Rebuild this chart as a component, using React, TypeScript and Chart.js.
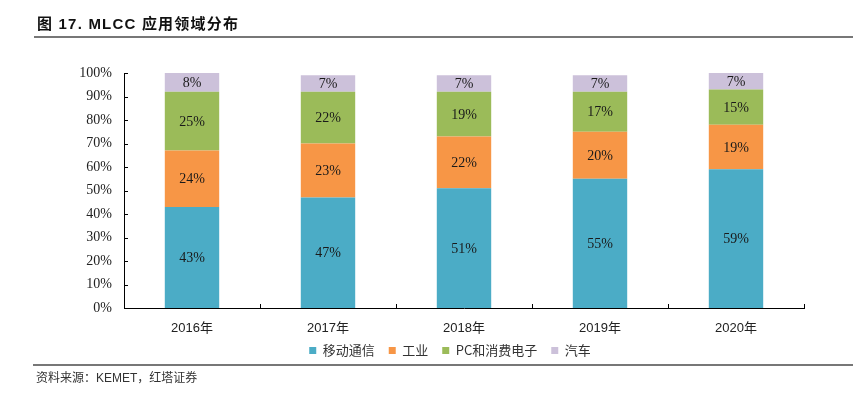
import React, { useEffect, useRef } from "react";
import { Chart, registerables } from "chart.js";

Chart.register(...registerables);

const titleText = "图 17. MLCC 应用领域分布";
const sourceText = "资料来源：KEMET，红塔证券";
const categories = ["2016年", "2017年", "2018年", "2019年", "2020年"];
const seriesNames = ["移动通信", "工业", "PC和消费电子", "汽车"];
const mobileComm = [43, 47, 51, 55, 59];
const industrial = [24, 23, 22, 20, 19];
const pcConsumer = [25, 22, 19, 17, 15];
const automotive = [8, 7, 7, 7, 7];
const yTicks = [0, 10, 20, 30, 40, 50, 60, 70, 80, 90, 100];
const seriesColors = ["#4BACC6", "#F79646", "#9BBB59", "#CCC1DA"];

const SERIF = '"Liberation Serif", "Times New Roman", serif';
const SANS = '"Liberation Sans", Arial, "Noto Sans CJK SC", sans-serif';
const CJK = '"Noto Sans CJK SC", "Liberation Sans", sans-serif';

const tickMarks = {
  id: "tickMarks",
  afterDraw(chart: any) {
    const { ctx, chartArea } = chart;
    const x = chart.scales.x;
    const y = chart.scales.y;
    ctx.save();
    ctx.strokeStyle = "#000";
    ctx.lineWidth = 1;
    ctx.beginPath();
    yTicks.forEach((v) => {
      const py = Math.round(y.getPixelForValue(v)) + 0.5;
      ctx.moveTo(chartArea.left, py);
      ctx.lineTo(chartArea.left + 4, py);
    });
    for (let i = 0; i <= categories.length; i++) {
      const px = Math.round(x.getPixelForValue(i - 0.5)) + 0.5;
      ctx.moveTo(px, chartArea.bottom);
      ctx.lineTo(px, chartArea.bottom - 4);
    }
    ctx.stroke();
    ctx.restore();
  },
};

const barLabels = {
  id: "barLabels",
  afterDatasetsDraw(chart: any) {
    const { ctx } = chart;
    ctx.save();
    ctx.font = `14px ${SERIF}`;
    ctx.fillStyle = "#1a1a1a";
    ctx.textAlign = "center";
    ctx.textBaseline = "middle";
    chart.data.datasets.forEach((ds: any, i: number) => {
      const meta = chart.getDatasetMeta(i);
      meta.data.forEach((el: any, j: number) => {
        const p = el.getProps(["x", "y", "base"], true);
        ctx.fillText(ds.data[j] + "%", p.x, (p.y + p.base) / 2 + 1);
      });
    });
    ctx.restore();
  },
};

// Nudge the legend box so it sits where the reference shows it.
const legendShift = {
  id: "legendShift",
  afterLayout(chart: any) {
    const l = chart.legend;
    if (!l) return;
    l.top -= 14;
    l.bottom -= 14;
    l.left += 48;
    l.right += 48;
  },
};

export default function App() {
  const ref = useRef<HTMLCanvasElement | null>(null);

  useEffect(() => {
    if (!ref.current) return;
    const seriesData = [mobileComm, industrial, pcConsumer, automotive];
    const chart = new Chart(ref.current, {
      type: "bar",
      data: {
        labels: categories,
        datasets: seriesNames.map((name, i) => ({
          label: name,
          data: seriesData[i],
          backgroundColor: seriesColors[i],
          borderWidth: 0,
          barPercentage: 0.4,
          categoryPercentage: 1,
        })),
      },
      options: {
        animation: false,
        responsive: false,
        devicePixelRatio: 1,
        layout: { padding: { left: 0, right: 49, top: 73, bottom: 13 } },
        plugins: {
          tooltip: { enabled: false },
          legend: {
            position: "bottom",
            labels: {
              boxWidth: 7,
              boxHeight: 7,
              padding: 14,
              color: "#333",
              font: { size: 13, family: CJK },
            },
          },
        },
        scales: {
          x: {
            stacked: true,
            grid: { display: false },
            border: { display: true, color: "#000", width: 1 },
            ticks: { color: "#222", padding: 5, font: { size: 13, family: SANS } },
            afterFit: (s: any) => {
              s.height = 36;
            },
          },
          y: {
            stacked: true,
            min: 0,
            max: 100,
            grid: { display: false },
            border: { display: true, color: "#000", width: 1 },
            ticks: {
              stepSize: 10,
              color: "#222",
              padding: 4,
              font: { size: 14, family: SERIF },
              callback: (v: any) => v + "%",
            },
            afterFit: (s: any) => {
              s.width = 124;
            },
          },
        },
      },
      plugins: [tickMarks, barLabels, legendShift],
    });
    return () => chart.destroy();
  }, []);

  return (
    <div style={{ position: "fixed", left: 0, top: 0, width: 853, height: 394, background: "#fff", overflow: "hidden" }}>
      <canvas ref={ref} width={853} height={394} style={{ position: "absolute", left: 0, top: 0 }} />
      <div
        style={{
          position: "absolute",
          left: 37,
          top: 14,
          font: `bold 15px ${SANS}`,
          letterSpacing: "1.2px",
          lineHeight: "20px",
          color: "#111",
          whiteSpace: "nowrap",
        }}
      >
        {titleText}
      </div>
      <div style={{ position: "absolute", left: 34, right: 0, top: 36, height: 2, background: "#777" }} />
      <div style={{ position: "absolute", left: 33, right: 0, top: 364, height: 2, background: "#777" }} />
      <div
        style={{
          position: "absolute",
          left: 36,
          top: 370,
          font: `12px ${SANS}`,
          lineHeight: "16px",
          color: "#333",
          whiteSpace: "nowrap",
        }}
      >
        {sourceText}
      </div>
    </div>
  );
}
